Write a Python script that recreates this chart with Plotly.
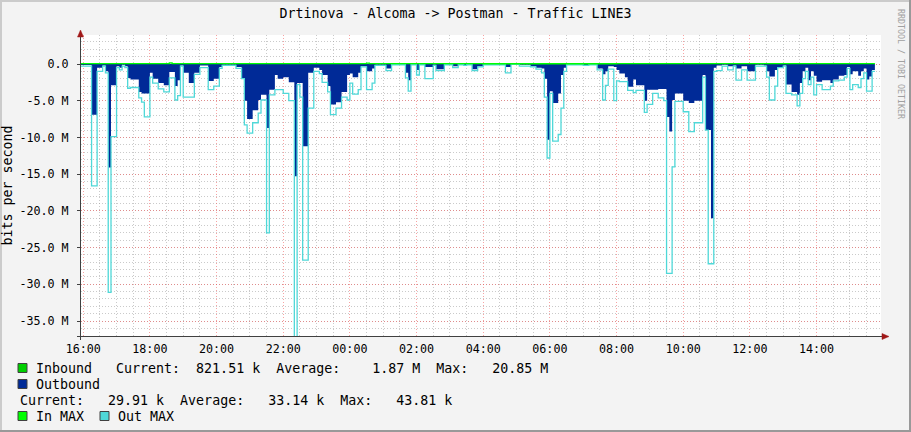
import plotly.graph_objects as go
from datetime import datetime, timedelta

TITLE = "Drtinova - Alcoma -> Postman - Traffic LINE3"
Y_TITLE = "bits per second"
WATERMARK = "RRDTOOL / TOBI OETIKER"

# ---- Outbound (drawn below zero), 5-minute samples, values in Mbit/s ----
out_times = ["15:55", "16:15", "16:25", "16:35", "16:40", "16:45", "16:50", "17:00", "17:05", "17:10",
             "17:15", "17:20", "17:25", "17:40", "17:45", "17:50", "18:00", "18:05", "18:15", "18:25",
             "18:35", "18:45", "18:50", "18:55", "19:00", "19:10", "19:20", "19:30", "19:45", "19:55",
             "20:05", "20:10", "20:35", "20:45", "20:50", "20:55", "21:05", "21:15", "21:20", "21:30",
             "21:35", "21:45", "21:50", "22:00", "22:10", "22:20", "22:25", "22:30", "22:35", "22:45",
             "22:55", "23:05", "23:10", "23:20", "23:25", "23:35", "23:45", "23:55", "00:00", "00:05",
             "00:15", "00:20", "00:30", "00:40", "00:45", "01:05", "01:15", "01:40", "01:45", "01:50",
             "02:00", "02:05", "02:15", "02:30", "02:35", "02:50", "03:05", "03:15", "03:25", "03:30",
             "03:40", "03:50", "04:00", "04:40", "04:50", "05:05", "05:25", "05:35", "05:45", "05:50",
             "05:55", "06:00", "06:05", "06:15", "06:20", "06:25", "06:30", "07:00", "07:10", "07:25",
             "07:35", "07:40", "07:45", "07:55", "08:00", "08:05", "08:15", "08:20", "08:30", "08:35",
             "08:50", "08:55", "09:05", "09:15", "09:25", "09:30", "09:35", "09:40", "09:45", "10:00",
             "10:10", "10:20", "10:35", "10:40", "10:45", "10:50", "10:55", "11:00", "11:10", "11:20",
             "11:30", "11:35", "11:45", "11:55", "12:10", "12:25", "12:30", "12:35", "12:45", "12:50",
             "13:00", "13:05", "13:15", "13:25", "13:30", "13:35", "13:40", "13:45", "13:50", "13:55",
             "14:00", "14:10", "14:25", "14:30", "14:40", "14:50", "14:55", "15:00", "15:05", "15:15",
             "15:20", "15:25", "15:30", "15:35", "15:40"]
out_avg = [0.15, 6.9, 0.5, 0.2, 1.0, 14.1, 2.9, 0.3, 0.5, 0.1,
           0.3, 1.9, 2.1, 3.8, 4.0, 4.0, 1.2, 2.0, 2.6, 2.9,
           1.1, 3.0, 2.2, 0.2, 1.2, 2.6, 1.2, 0.2, 2.3, 2.0,
           0.4, 0.1, 0.4, 1.9, 5.0, 7.5, 6.3, 4.9, 4.2, 8.7,
           3.5, 1.5, 2.0, 1.8, 2.5, 15.3, 2.6, 2.6, 11.2, 1.2,
           0.5, 0.8, 1.5, 3.0, 5.5, 5.2, 3.8, 1.5, 1.3, 1.8,
           1.2, 0.3, 1.0, 0.6, 0.1, 0.6, 0.05, 1.2, 2.2, 0.05,
           0.8, 0.05, 0.4, 0.1, 0.7, 0.05, 0.3, 0.05, 0.15, 0.05,
           0.7, 0.3, 0.05, 0.4, 0.02, 0.1, 0.3, 0.5, 0.6, 2.0,
           10.3, 3.7, 5.3, 4.0, 1.5, 0.5, 0.05, 0.15, 0.05, 0.6,
           1.4, 1.0, 0.3, 0.4, 0.8, 1.3, 1.8, 3.1, 2.1, 2.9,
           5.0, 3.5, 3.5, 3.4, 3.4, 7.2, 9.2, 4.9, 4.0, 5.0,
           5.3, 5.0, 1.5, 9.0, 9.0, 21.0, 0.5, 0.2, 0.1, 0.3,
           0.2, 0.6, 0.3, 1.0, 0.1, 0.2, 1.0, 1.7, 0.8, 0.4,
           0.2, 2.8, 3.8, 4.2, 2.6, 1.0, 0.5, 2.2, 1.0, 1.6,
           2.4, 2.2, 2.6, 2.1, 1.6, 1.5, 0.4, 1.4, 1.0, 1.6,
           1.0, 0.6, 2.1, 1.7, 0.82]
out_max = [0.3, 16.6, 1.0, 0.3, 1.2, 31.1, 9.9, 0.5, 0.8, 0.3,
           0.5, 3.3, 3.2, 4.6, 5.2, 7.2, 1.8, 2.6, 3.4, 3.8,
           1.9, 4.9, 4.3, 0.3, 4.5, 4.5, 1.4, 0.5, 3.5, 3.0,
           0.6, 0.2, 0.6, 2.0, 8.3, 9.4, 8.0, 6.7, 4.9, 23.0,
           4.2, 3.5, 3.5, 4.0, 5.0, 37.5, 2.8, 4.5, 26.7, 6.0,
           1.0, 1.3, 2.5, 3.8, 6.9, 6.0, 4.5, 4.9, 2.6, 4.1,
           3.5, 0.4, 3.5, 2.6, 0.2, 0.9, 0.1, 1.9, 3.7, 0.1,
           1.5, 0.1, 2.0, 0.2, 0.9, 0.1, 0.5, 0.1, 0.2, 0.1,
           0.9, 0.4, 0.1, 1.2, 0.05, 0.3, 0.4, 0.7, 1.2, 4.5,
           12.8, 4.0, 10.5, 9.6, 6.0, 1.0, 0.1, 0.2, 0.1, 0.8,
           4.9, 2.9, 0.7, 5.0, 2.3, 2.4, 2.4, 3.6, 3.9, 3.6,
           6.6, 5.5, 4.0, 4.6, 5.0, 28.5, 28.5, 14.0, 5.1, 6.5,
           9.2, 8.0, 1.8, 9.0, 27.2, 27.2, 1.0, 0.9, 0.3, 0.8,
           0.3, 2.2, 0.8, 2.2, 0.3, 0.3, 1.8, 4.9, 3.0, 0.5,
           0.3, 4.0, 4.2, 5.7, 4.0, 2.0, 1.0, 2.8, 1.8, 4.2,
           2.8, 3.5, 3.0, 2.3, 2.2, 1.8, 0.6, 3.5, 2.8, 3.2,
           2.0, 1.2, 3.7, 3.7, 1.0]
out_end = "15:45"

# ---- Inbound (drawn above zero), values in Mbit/s ----
in_times = ["15:55", "18:35", "18:40", "20:00", "00:00", "00:30", "00:35", "04:00", "08:00", "12:00"]
in_avg = [0.03, 0.04, 0.03, 0.035, 0.03, 0.035, 0.03, 0.025, 0.035, 0.03]
in_max = [0.04, 0.15, 0.04, 0.044, 0.04, 0.12, 0.04, 0.035, 0.044, 0.04]
in_end = "15:45"

y_tick_vals = [0, -5, -10, -15, -20, -25, -30, -35]
y_tick_text = ["0.0", "-5.0 M", "-10.0 M", "-15.0 M", "-20.0 M", "-25.0 M", "-30.0 M", "-35.0 M"]

legend_rows = [
    ("Inbound   Current:  821.51 k  Average:    1.87 M  Max:   20.85 M", True, "#00cf00"),
    ("Outbound", True, "#002a97"),
    ("Current:   29.91 k  Average:   33.14 k  Max:   43.81 k", False, None),
]
max_legend = [("In MAX", "#00ff00"), ("Out MAX", "#4fd8d8")]

C_OUT = "#002a97"
C_IN = "#00cf00"
C_INMAX = "#00ff00"
C_OUTMAX = "#4fd8d8"
MONO = "DejaVu Sans Mono"

W, H = 911, 432
PL, PR, PT, PB = 81, 881, 35, 336


def fx(px):
    return (px - PL) / (PR - PL)


def fy(py):
    return (PB - py) / (PB - PT)


def to_dt(times, end):
    base = datetime(2024, 1, 1)
    res, day, prev = [], 0, None
    for t in list(times) + [end]:
        h, m = map(int, t.split(":"))
        mins = h * 60 + m
        if prev is not None and mins < prev:
            day += 1
        prev = mins
        res.append(base + timedelta(days=day, hours=h, minutes=m))
    return res


ox = to_dt(out_times, out_end)
ix = to_dt(in_times, in_end)
oa = [-v * 1e6 for v in out_avg] + [-out_avg[-1] * 1e6]
om = [-v * 1e6 for v in out_max] + [-out_max[-1] * 1e6]
ia = [v * 1e6 for v in in_avg] + [in_avg[-1] * 1e6]
im = [v * 1e6 for v in in_max] + [in_max[-1] * 1e6]

fig = go.Figure()
fig.add_trace(go.Scatter(x=ox, y=oa, mode="lines", line=dict(shape="hv", width=0, color=C_OUT),
                         fill="tozeroy", fillcolor=C_OUT, name="Outbound"))
fig.add_trace(go.Scatter(x=ix, y=ia, mode="lines", line=dict(shape="hv", width=0, color=C_IN),
                         fill="tozeroy", fillcolor=C_IN, name="Inbound"))
fig.add_trace(go.Scatter(x=ox, y=om, mode="lines", line=dict(shape="hv", width=1.3, color=C_OUTMAX),
                         name="Out MAX"))
fig.add_trace(go.Scatter(x=ix, y=im, mode="lines", line=dict(shape="hv", width=1.3, color=C_INMAX),
                         name="In MAX"))

x0 = datetime(2024, 1, 1, 15, 56)
x1 = x0 + timedelta(days=1)

fig.update_layout(
    width=W, height=H,
    margin=dict(l=PL, r=W - PR, t=PT, b=H - PB, pad=0, autoexpand=False),
    paper_bgcolor="#f3f3f3", plot_bgcolor="#ffffff",
    showlegend=False,
    font=dict(family=MONO, color="#000000", size=12),
    title=dict(text=TITLE, x=0.5, xref="container", xanchor="center",
               y=1 - 13 / H, yref="container", yanchor="middle",
               font=dict(family=MONO, size=13.3, color="#000000")),
)

fig.update_xaxes(
    type="date", range=[x0, x1], automargin=False,
    tick0=datetime(2024, 1, 1, 16, 0), dtick=2 * 3600 * 1000, tickformat="%H:%M",
    showgrid=True, gridcolor="rgba(240,90,90,0.55)", griddash="1px,2px", gridwidth=1,
    minor=dict(dtick=30 * 60 * 1000, tick0=datetime(2024, 1, 1, 16, 0), showgrid=True,
               gridcolor="rgba(150,150,150,0.5)", griddash="1px,2px", gridwidth=1),
    showline=False, zeroline=False, ticks="", ticklabelstandoff=4,
    tickfont=dict(family=MONO, size=11.7, color="#000000"),
)
fig.update_yaxes(
    range=[-37.04e6, 3.95e6], automargin=False,
    tickvals=[v * 1e6 for v in y_tick_vals], ticktext=y_tick_text,
    showgrid=True, gridcolor="rgba(240,90,90,0.55)", griddash="1px,2px", gridwidth=1,
    minor=dict(dtick=1e6, tick0=0, showgrid=True,
               gridcolor="rgba(150,150,150,0.5)", griddash="1px,2px", gridwidth=1),
    showline=False, zeroline=False, ticks="outside", ticklen=3, tickcolor="#404040",
    ticklabelstandoff=6,
    tickfont=dict(family=MONO, size=11.7, color="#000000"),
    title=dict(text=Y_TITLE, font=dict(family=MONO, size=13.3, color="#000000"), standoff=6),
)

shapes = []
# axes lines with arrows
shapes.append(dict(type="line", xref="paper", yref="paper", x0=fx(80.5), x1=fx(80.5), y0=fy(340), y1=fy(33),
                   line=dict(color="#404040", width=1)))
shapes.append(dict(type="line", xref="paper", yref="paper", x0=fx(77), x1=fx(884), y0=fy(336.5), y1=fy(336.5),
                   line=dict(color="#404040", width=1)))
shapes.append(dict(type="path", xref="paper", yref="paper",
                   path=f"M {fx(77.5)} {fy(37)} L {fx(83.5)} {fy(37)} L {fx(80.5)} {fy(30)} Z",
                   fillcolor="#a01818", line=dict(color="#a01818", width=0.5)))
shapes.append(dict(type="path", xref="paper", yref="paper",
                   path=f"M {fx(882)} {fy(333.5)} L {fx(882)} {fy(339.5)} L {fx(889)} {fy(336.5)} Z",
                   fillcolor="#a01818", line=dict(color="#a01818", width=0.5)))
# frame shading
shapes.append(dict(type="rect", xref="paper", yref="paper", x0=fx(0), x1=fx(W), y0=fy(0), y1=fy(2),
                   fillcolor="#cbcbcb", line=dict(width=0), layer="above"))
shapes.append(dict(type="rect", xref="paper", yref="paper", x0=fx(0), x1=fx(2), y0=fy(0), y1=fy(H),
                   fillcolor="#cbcbcb", line=dict(width=0), layer="above"))
shapes.append(dict(type="rect", xref="paper", yref="paper", x0=fx(W - 2), x1=fx(W), y0=fy(0), y1=fy(H),
                   fillcolor="#999999", line=dict(width=0), layer="above"))
shapes.append(dict(type="rect", xref="paper", yref="paper", x0=fx(0), x1=fx(W), y0=fy(H - 2), y1=fy(H),
                   fillcolor="#999999", line=dict(width=0), layer="above"))

annotations = []
row_y = [368, 384, 400]
for (text, has_box, col), yy in zip(legend_rows, row_y):
    tx = 34 if has_box else 18
    if has_box:
        shapes.append(dict(type="rect", xref="paper", yref="paper", x0=fx(18), x1=fx(27),
                           y0=fy(yy - 4.5), y1=fy(yy + 4.5), fillcolor=col,
                           line=dict(color="#404040", width=1)))
    annotations.append(dict(text=text.replace(" ", "\u00a0"), xref="paper", yref="paper",
                            x=fx(tx), y=fy(yy), xanchor="left", yanchor="middle", showarrow=False,
                            font=dict(family=MONO, size=13.3, color="#000000")))
# max legend row
yy = 416
bx = [18, 100]
for (text, col), b in zip(max_legend, bx):
    shapes.append(dict(type="rect", xref="paper", yref="paper", x0=fx(b), x1=fx(b + 9),
                       y0=fy(yy - 4.5), y1=fy(yy + 4.5), fillcolor=col,
                       line=dict(color="#404040", width=1)))
    annotations.append(dict(text=text.replace(" ", "\u00a0"), xref="paper", yref="paper",
                            x=fx(b + 16), y=fy(yy), xanchor="left", yanchor="middle", showarrow=False,
                            font=dict(family=MONO, size=13.3, color="#000000")))
# watermark
annotations.append(dict(text=WATERMARK, xref="paper", yref="paper", x=fx(901), y=fy(7),
                        xanchor="center", yanchor="top", textangle=90, showarrow=False,
                        font=dict(family=MONO, size=8.3, color="#a0a0a0")))

fig.update_layout(shapes=shapes, annotations=annotations)
fig.write_html("out.html", config={"displayModeBar": False},
               post_script="document.body.style.margin='0px';document.body.style.overflow='hidden';")
